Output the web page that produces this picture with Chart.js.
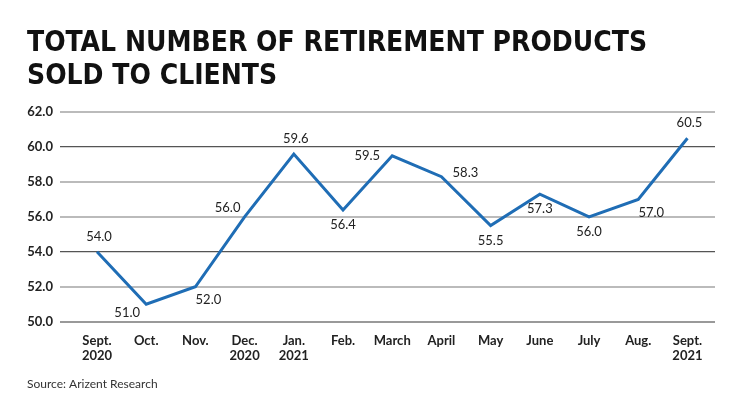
<!DOCTYPE html>
<html>
<head>
<meta charset="utf-8">
<script src="https://cdn.jsdelivr.net/npm/chart.js@4"></script>
<style>
	html, body { margin: 0; padding: 0; background: #fff; }
	#wrap { width: 740px; height: 415px; }
</style>
</head>
<body>
<div id="wrap"><canvas id="chart" width="740" height="415"></canvas></div>
<script>
// months on the x axis, two lines each
var months = [
	["Sept.", "2020"], ["Oct."], ["Nov."], ["Dec.", "2020"], ["Jan.", "2021"],
	["Feb."], ["March"], ["April"], ["May"], ["June"], ["July"], ["Aug."], ["Sept.", "2021"]
];
var products = [54.0, 51.0, 52.0, 56.0, 59.6, 56.4, 59.5, 58.3, 55.5, 57.3, 56.0, 57.0, 60.5];
var yTicks = [50, 52, 54, 56, 58, 60, 62];
// where each value label sits relative to its point
var labelPos = ["up", "downleft", "downright", "upleft", "up", "down", "left", "right", "down", "down", "down", "downright", "up"];

const BLUE = '#1f6db5';

const valueLabels = {
	id: 'valueLabels',
	afterDatasetsDraw(chart) {
		const {ctx} = chart;
		const meta = chart.getDatasetMeta(0);
		ctx.save();
		ctx.font = '13px Lato, "Noto Sans", sans-serif';
		ctx.fillStyle = '#222';
		ctx.textAlign = 'center';
		ctx.textBaseline = 'middle';
		meta.data.forEach((pt, i) => {
			let dx = 0, dy = 0;
			switch (labelPos[i]) {
				case 'up': dx = 2; dy = -15; break;
				case 'down': dy = 15; break;
				case 'downleft': dx = -19; dy = 9; break;
				case 'downright': dx = 13; dy = 13; break;
				case 'upleft': dx = -17; dy = -9; break;
				case 'left': dx = -25; dy = 0; break;
				case 'right': dx = 24; dy = -4; break;
			}
			ctx.fillText(products[i].toFixed(1), pt.x + dx, pt.y + dy);
		});
		ctx.restore();
	}
};

function gridColor(ctx) {
	const v = ctx.tick ? ctx.tick.value : 0;
	if (v === 60 || v === 54) return '#555';
	if (v === 50) return '#999';
	return '#bbb';
}

var chart = new Chart(document.getElementById('chart'), {
	type: 'line',
	data: {
		datasets: [{
			data: products.map((v, i) => ({x: i, y: v})),
			borderColor: BLUE,
			borderWidth: 3,
			pointRadius: 0,
			tension: 0,
			fill: false,
		}]
	},
	options: {
		responsive: false,
		animation: false,
		layout: { padding: { left: 27, right: 25, top: 0, bottom: 0 } },
		scales: {
			x: {
				type: 'linear',
				min: -0.752,
				max: 12.56,
				afterBuildTicks(axis) {
					axis.ticks = months.map((m, i) => ({value: i}));
				},
				ticks: {
					autoSkip: false,
					maxRotation: 0,
					padding: 4,
					color: '#222',
					font: { family: 'Lato, "Noto Sans", sans-serif', size: 13, weight: 'bold', lineHeight: 1.15 },
					callback: (v) => months[v],
				},
				grid: { display: false },
				border: { display: false },
			},
			y: {
				min: 50,
				max: 62,
				afterBuildTicks(axis) {
					axis.ticks = yTicks.map(v => ({value: v}));
				},
				afterFit(axis) { axis.width = 33; },
				ticks: {
					padding: 7,
					color: '#222',
					font: { family: 'Lato, "Noto Sans", sans-serif', size: 13, weight: 'bold' },
					callback: (v) => v.toFixed(1),
				},
				grid: {
					color: gridColor,
					lineWidth: (ctx) => (ctx.tick && (ctx.tick.value === 60 || ctx.tick.value === 54)) ? 1.2 : 2,
					drawTicks: false,
				},
				border: { display: false },
			},
		},
		plugins: {
			legend: { display: false },
			tooltip: { enabled: false },
			title: {
				display: true,
				align: 'start',
				text: ['TOTAL NUMBER OF RETIREMENT PRODUCTS', 'SOLD TO CLIENTS'],
				color: '#111',
				font: { family: '"Liberation Sans Narrow", "DejaVu Sans Condensed", sans-serif', size: 28, weight: 'bold', lineHeight: 1.18 },
				padding: { top: 27, bottom: 19 },
			},
			subtitle: {
				display: true,
				position: 'bottom',
				align: 'start',
				text: 'Source: Arizent Research',
				color: '#333',
				font: { family: 'Lato, "Noto Sans", sans-serif', size: 12 },
				padding: { top: 9, bottom: 24 },
			},
		},
	},
	plugins: [valueLabels],
});
</script>
</body>
</html>
